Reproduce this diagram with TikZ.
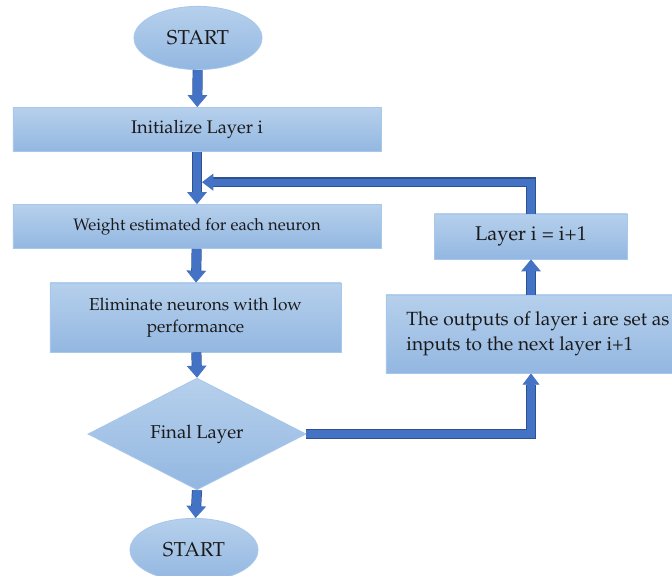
\documentclass[tikz,border=0pt]{standalone}
\usepackage[T1]{fontenc}
\usepackage{mathpazo}
\usepackage{xcolor}
\usepackage{tikz}
\usetikzlibrary{shapes.geometric, arrows.meta, positioning, calc}
\definecolor{boxtop}{HTML}{B6D0EC}
\definecolor{boxbot}{HTML}{93B7E1}
\definecolor{boxedge}{HTML}{A7C7EB}
\definecolor{flowblue}{HTML}{4472C4}
\definecolor{flowedge}{HTML}{2F528F}
\definecolor{inktext}{HTML}{1A1A1A}

\begin{document}
\begin{tikzpicture}[
  x=0.025cm, y=-0.025cm,
  shade/.style={top color=boxtop, bottom color=boxbot, draw=boxedge, line width=0.6pt, text=inktext},
  proc/.style={shade, rectangle, minimum width=9.2cm, minimum height=1.1cm, align=center},
  term/.style={shade, ellipse, minimum width=3.2cm, minimum height=1.58cm, inner sep=0pt},
  decide/.style={shade, diamond, minimum width=5.45cm, minimum height=2.35cm, inner sep=0pt},
  flow/.style={draw=flowblue, line width=6.2pt,
    -{Triangle[width=14pt, length=8.5pt, line width=0.6pt]},
    preaction={draw=flowedge, line width=7.2pt, arrows=-, shorten >=8pt}},
  loop/.style={flow, line width=5.2pt,
    -{Triangle[width=12pt, length=8pt, line width=0.6pt]},
    preaction={draw=flowedge, line width=6.2pt, arrows=-, shorten >=7pt}},
]
  \useasboundingbox (0,0) rectangle (672,576);

  % Main column
  \node[term, font=\fontsize{14.3}{17}\selectfont] (start) at (198,38) {START};
  \node[proc, font=\fontsize{13}{15}\selectfont] (init) at (197,129.5) {Initialize Layer i};
  \node[proc, font=\fontsize{11.8}{14}\selectfont] (weight) at (197,226.5) {Weight estimated for each neuron};
  \node[proc, minimum width=7.275cm, minimum height=1.725cm, font=\fontsize{12.3}{16}\selectfont]
    (elim) at (195.5,317.5) {Eliminate neurons with low\\performance};
  \node[decide, font=\fontsize{13.2}{15}\selectfont] (final) at (197,434) {Final Layer};
  \node[term, font=\fontsize{14.3}{17}\selectfont] (stop) at (194,550) {START};

  % Right column
  \node[proc, minimum width=4.825cm, minimum height=1.125cm, font=\fontsize{14.2}{17}\selectfont]
    (layer) at (531,236.5) {Layer i = i+1};
  \node[proc, minimum width=7.6cm, minimum height=1.95cm, align=left, font=\fontsize{13.6}{17.5}\selectfont]
    (outputs) at (538,334) {The outputs of layer i are set as\\inputs to the next layer i+1};

  \coordinate (back) at ($(init.south)!0.58!(weight.north) + (5,0)$);

  % Connectors
  \draw[flow] (start) -- (init);
  \draw[flow] (init) -- (weight);
  \draw[flow] (weight) -- (elim);
  \draw[flow] (elim) -- (final.north);
  \draw[flow] (final.south) -- (stop);
  \draw[loop] (final.east) -| (outputs.south -| layer.south);
  \draw[flow] (outputs.north -| layer.south) -- (layer.south);
  \draw[loop] (layer.north) |- (back);

\end{tikzpicture}
\end{document}
